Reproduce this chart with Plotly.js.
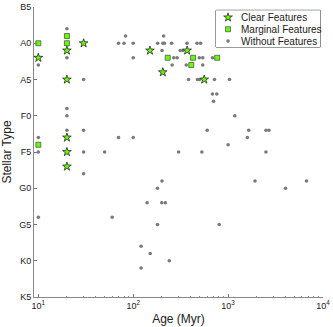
<!DOCTYPE html>
<html>
<head>
<meta charset="utf-8">
<script src="https://cdn.plot.ly/plotly-3.0.1.min.js"></script>
<style>
  html, body { margin: 0; padding: 0; background: #fff; }
  #plot { width: 333px; height: 327px; }
</style>
</head>
<body>
<div id="plot"></div>
<script>
// Ages in Myr, spectral types as written
const clearAge  = [10, 20, 20, 20, 20, 20, 30, 150, 205, 370, 560];
const clearType = ['A2', 'A1', 'A5', 'F3', 'F5', 'F7', 'A0', 'A1', 'A4', 'A1', 'A5'];

const marginalAge  = [10, 10, 20, 20, 231, 427, 409, 767];
const marginalType = ['A0', 'F4', 'B9', 'A0', 'A2', 'A2', 'A3', 'A2'];

const withoutAge = [
    10, 10, 10, 10,
    20, 20, 20, 20, 20,
    30, 30, 30, 30,
    50, 60, 70, 70, 80, 83,
    100, 100, 100, 121, 121, 140, 151, 180, 180,
    181, 201, 200, 201, 205, 213, 209, 218, 240,
    254, 257, 267, 290, 301, 313, 334,
    369, 362, 383, 470, 476, 513, 500, 497, 540, 540,
    529, 602, 684, 684, 760, 702, 718, 805,
    1000, 1033, 1175, 1596, 1648, 1919, 2506, 2693, 2506, 4030, 6700
];
const withoutType = [
    'A3', 'F3', 'F5', 'G4',
    'B8', 'A2', 'A9', 'F0', 'F2',
    'A5', 'F2', 'F5', 'F8',
    'F5', 'G4', 'A0', 'F3', 'A0', 'B9',
    'A0', 'A2', 'F3', 'G8', 'K1', 'G2', 'G9', 'G0', 'G5',
    'A0', 'F9', 'G2', 'A1', 'A0', 'A0', 'B9', 'G2', 'K0',
    'A0', 'A3', 'A2', 'A2', 'F5', 'A1', 'A1',
    'A0', 'A3', 'A5', 'A0', 'A5', 'A0', 'A5', 'A2', 'A2', 'A3',
    'F5', 'F2', 'A2', 'A7', 'A7', 'A8', 'A5', 'G5',
    'F4', 'A5', 'F0', 'F3', 'F2', 'F9', 'F2', 'F2', 'F5', 'G0', 'F9'
];

const typeTicks = ['B5', 'A0', 'A5', 'F0', 'F5', 'G0', 'G5', 'K0', 'K5'];
const ageTicks = [10, 100, 1000, 10000];
const ageTickText = ['10<sup>1</sup>', '10<sup>2</sup>', '10<sup>3</sup>', '10<sup>4</sup>'];
const legendLabels = ['Clear Features', 'Marginal Features', 'Without Features'];

// B5 -> 0, A0 -> 5, ... K5 -> 40, one step per subclass
const classBase = { B: -5, A: 5, F: 15, G: 25, K: 35 };
function typeValue(t) {
    return classBase[t.charAt(0)] + Number(t.slice(1));
}

const font = '"Liberation Sans", Arial, Helvetica, sans-serif';
const green = '#66ff00';

const styles = [
    { symbol: 'star', size: 6.5, color: green, line: { color: '#2a2a2a', width: 0.8 } },
    { symbol: 'square', size: 5, color: green, line: { color: '#444', width: 0.7 } },
    { symbol: 'circle', size: 3.6, color: '#7a7a7a', line: { width: 0 } }
];

const groups = [
    { age: withoutAge, type: withoutType, style: styles[2] },
    { age: marginalAge, type: marginalType, style: styles[1] },
    { age: clearAge, type: clearType, style: styles[0] }
];

const traces = groups.map(g => ({
    x: g.age,
    y: g.type.map(typeValue),
    mode: 'markers',
    type: 'scatter',
    marker: g.style,
    showlegend: false,
    hoverinfo: 'skip'
}));

// hand-made legend in its own little axes (plotly's legend rows are too tall)
legendLabels.forEach((label, i) => {
    traces.push({
        x: [0],
        y: [i],
        xaxis: 'x2',
        yaxis: 'y2',
        mode: 'markers',
        type: 'scatter',
        marker: styles[i],
        showlegend: false,
        hoverinfo: 'skip'
    });
});

const minorTicks = [];
ageTicks.slice(0, -1).forEach(d => {
    for (let k = 2; k <= 9; k++) minorTicks.push(k * d);
});

const layout = {
    width: 333,
    height: 327,
    margin: { l: 34, r: 10, t: 7, b: 30 },
    paper_bgcolor: '#fff',
    plot_bgcolor: '#fff',
    font: { family: font, size: 9, color: '#222' },
    showlegend: false,
    xaxis: {
        type: 'log',
        range: [Math.log10(9), 4],
        tickmode: 'array',
        tickvals: ageTicks,
        ticktext: ageTickText,
        ticks: 'inside',
        ticklen: 3,
        tickcolor: '#777',
        minor: { ticks: 'inside', ticklen: 1.5, tickcolor: '#888', tickmode: 'array', tickvals: minorTicks },
        showline: true,
        linecolor: '#888',
        linewidth: 1,
        showgrid: false,
        zeroline: false,
        tickfont: { size: 9 },
        title: { text: 'Age (Myr)', font: { size: 12 }, standoff: 4 }
    },
    yaxis: {
        range: [40, 0],
        tickmode: 'array',
        tickvals: typeTicks.map(typeValue),
        ticktext: typeTicks,
        ticks: 'inside',
        ticklen: 3,
        tickcolor: '#777',
        showline: true,
        linecolor: '#888',
        linewidth: 1,
        showgrid: false,
        zeroline: false,
        tickfont: { size: 9 },
        title: { text: 'Stellar Type', font: { size: 12 }, standoff: 4 }
    },
    xaxis2: {
        domain: [0.6298, 0.9907],
        range: [-1.2, 9.2],
        anchor: 'y2',
        visible: false,
        fixedrange: true
    },
    yaxis2: {
        domain: [0.8621, 0.9886],
        range: [2.5, -0.6],
        anchor: 'x2',
        visible: false,
        fixedrange: true
    },
    shapes: [{
        type: 'rect',
        xref: 'x2 domain', yref: 'y2 domain',
        x0: 0, x1: 1, y0: 0, y1: 1,
        line: { color: '#333', width: 1 },
        layer: 'below'
    }],
    annotations: legendLabels.map((label, i) => ({
        text: label,
        xref: 'x2', yref: 'y2',
        x: 1.05, y: i,
        xanchor: 'left', yanchor: 'middle',
        showarrow: false,
        font: { family: font, size: 10, color: '#222' }
    }))
};

Plotly.newPlot('plot', traces, layout, { displayModeBar: false, staticPlot: true });
</script>
</body>
</html>
